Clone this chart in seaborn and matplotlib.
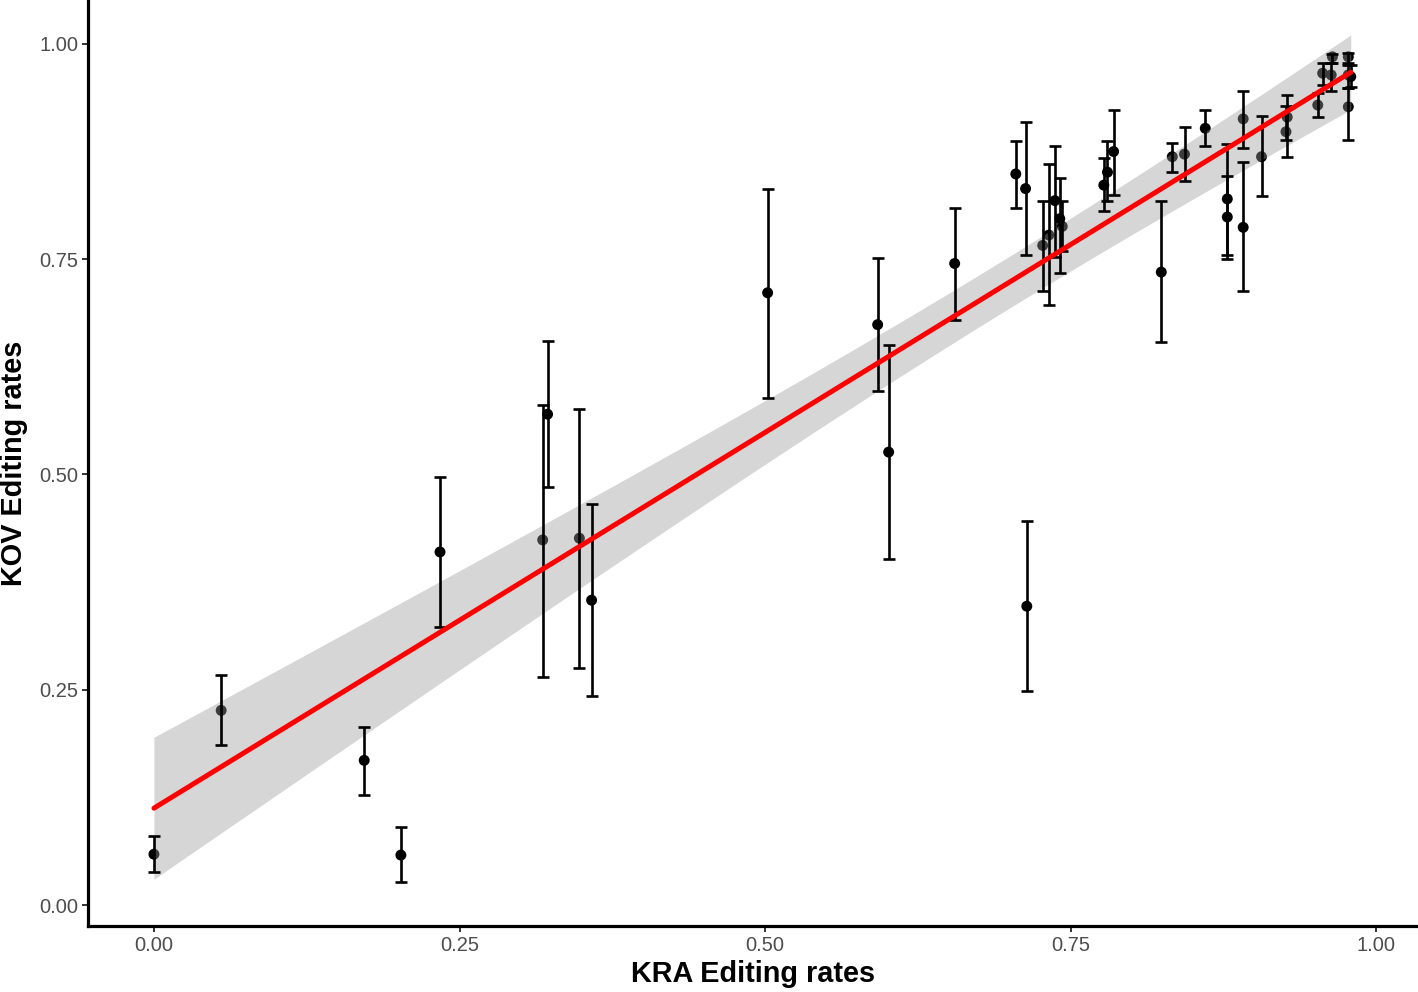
import numpy as np
import pandas as pd
import matplotlib
matplotlib.use("Agg")
import matplotlib.pyplot as plt
import seaborn as sns

# ---- data ----
kra = [0.000, 0.055, 0.172, 0.202, 0.234, 0.318, 0.322, 0.348, 0.358, 0.502,
       0.592, 0.601, 0.655, 0.705, 0.713, 0.714, 0.727, 0.732, 0.737, 0.741,
       0.743, 0.777, 0.780, 0.785, 0.824, 0.833, 0.843, 0.860, 0.878, 0.878,
       0.891, 0.891, 0.906, 0.927, 0.926, 0.952, 0.956, 0.963, 0.964, 0.977,
       0.977, 0.977, 0.979]
kov = [0.059, 0.226, 0.168, 0.058, 0.410, 0.424, 0.570, 0.426, 0.354, 0.711,
       0.674, 0.526, 0.745, 0.849, 0.832, 0.347, 0.766, 0.778, 0.818, 0.797,
       0.788, 0.836, 0.851, 0.875, 0.735, 0.869, 0.872, 0.902, 0.820, 0.799,
       0.913, 0.787, 0.869, 0.915, 0.898, 0.929, 0.966, 0.964, 0.985, 0.985,
       0.964, 0.927, 0.962]
kov_low = [0.038, 0.186, 0.128, 0.027, 0.323, 0.265, 0.485, 0.275, 0.243, 0.589,
           0.597, 0.402, 0.679, 0.810, 0.755, 0.249, 0.713, 0.697, 0.753, 0.734,
           0.760, 0.806, 0.817, 0.825, 0.654, 0.851, 0.841, 0.882, 0.755, 0.750,
           0.879, 0.713, 0.823, 0.869, 0.888, 0.915, 0.952, 0.945, 0.978, 0.976,
           0.949, 0.888, 0.950]
kov_high = [0.080, 0.267, 0.207, 0.091, 0.497, 0.581, 0.655, 0.576, 0.466, 0.832,
            0.751, 0.650, 0.810, 0.887, 0.909, 0.446, 0.817, 0.861, 0.881, 0.844,
            0.818, 0.867, 0.887, 0.923, 0.817, 0.885, 0.904, 0.923, 0.884, 0.847,
            0.945, 0.863, 0.916, 0.941, 0.928, 0.943, 0.978, 0.978, 0.988, 0.990,
            0.978, 0.949, 0.975]
x_ticks = [0.00, 0.25, 0.50, 0.75, 1.00]
y_ticks = [0.00, 0.25, 0.50, 0.75, 1.00]
tick_labels = ["0.00", "0.25", "0.50", "0.75", "1.00"]

df = pd.DataFrame({"KRA": kra, "KOV": kov, "low": kov_low, "high": kov_high})

sns.set_style("white")
plt.rcParams["font.family"] = ["Liberation Sans", "DejaVu Sans"]

fig = plt.figure(figsize=(14.18, 9.92), dpi=100)
ax = fig.add_axes([0.062, 0.0665, 0.938, 0.9335])

# points (under the band, like ggplot layering)
sns.scatterplot(data=df, x="KRA", y="KOV", ax=ax, color="black", s=62,
                edgecolor="none", linewidth=0, zorder=1, legend=False)

# linear fit line (seaborn) + analytic 95% confidence band (as in ggplot's lm smooth)
sns.regplot(data=df, x="KRA", y="KOV", ax=ax, scatter=False, ci=None,
            truncate=True, color="red", line_kws=dict(linewidth=3.6, zorder=4))

xv = df["KRA"].to_numpy()
yv = df["KOV"].to_numpy()
n = len(xv)
slope, intercept = np.polyfit(xv, yv, 1)
resid = yv - (intercept + slope * xv)
s_err = np.sqrt(np.sum(resid ** 2) / (n - 2))
xbar = xv.mean()
sxx = np.sum((xv - xbar) ** 2)
grid = np.linspace(xv.min(), xv.max(), 100)
se_fit = s_err * np.sqrt(1.0 / n + (grid - xbar) ** 2 / sxx)
t_crit = 2.0195  # t(0.975, df=41)
fit = intercept + slope * grid
ax.fill_between(grid, fit - t_crit * se_fit, fit + t_crit * se_fit,
                color="#999999", alpha=0.4, linewidth=0, zorder=2)

# error bars
yerr = np.vstack([df["KOV"] - df["low"], df["high"] - df["KOV"]])
ax.errorbar(df["KRA"], df["KOV"], yerr=yerr, fmt="none", ecolor="black",
            elinewidth=1.9, capsize=4.6, capthick=1.9, zorder=3)

ax.set_xlim(-0.054, 1.034)
ax.set_ylim(-0.0244, 1.051)
ax.set_xticks(x_ticks)
ax.set_xticklabels(tick_labels)
ax.set_yticks(y_ticks)
ax.set_yticklabels(tick_labels)
ax.tick_params(axis="both", which="major", length=4, width=1.4,
               color="#333333", labelcolor="#4D4D4D", labelsize=14.5, pad=3,
               bottom=True, left=True)

for side in ["top", "right"]:
    ax.spines[side].set_visible(False)
for side in ["left", "bottom"]:
    ax.spines[side].set_color("black")
    ax.spines[side].set_linewidth(2.3)

ax.set_xlabel("KRA Editing rates", fontsize=20.8, fontweight="bold",
              labelpad=4, color="black")
ax.set_ylabel("KOV Editing rates", fontsize=20.8, fontweight="bold",
              labelpad=8, color="black")

fig.savefig("out.png", dpi=100)
